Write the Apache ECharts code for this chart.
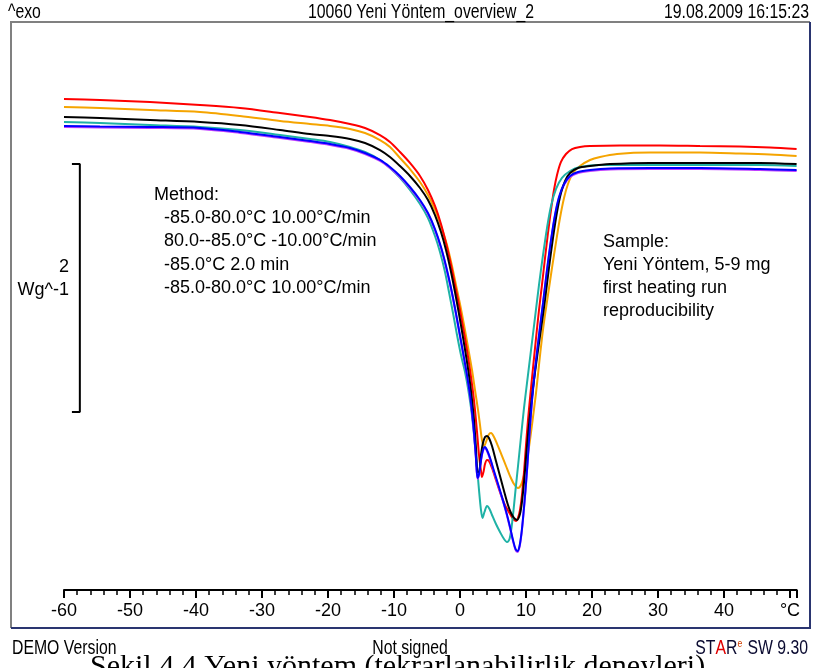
<!DOCTYPE html>
<html>
<head>
<meta charset="utf-8">
<script src="https://cdn.jsdelivr.net/npm/echarts@6/dist/echarts.min.js"></script>
<style>html,body{margin:0;padding:0;background:#fff;}#chart{width:813px;height:668px;}</style>
</head>
<body>
<div id="chart"></div>
<script>
// Temperature ticks (°C)
const xTicks = [-60, -50, -40, -30, -20, -10, 0, 10, 20, 30, 40, 50];
// Heat flow curves [T (°C), heat flow (W/g, arbitrary offset)]
const redCurve = [[-60,3.960],[-54.55,3.952],[-46.97,3.935],[-39.39,3.911],[-33.33,3.887],[-27.27,3.847],[-22.73,3.815],[-19.70,3.790],[-16.67,3.758],[-14.39,3.726],[-12.12,3.669],[-10.61,3.613],[-9.09,3.532],[-7.58,3.444],[-6.06,3.339],[-4.85,3.226],[-3.79,3.097],[-2.88,2.952],[-2.12,2.798],[-1.36,2.621],[-0.76,2.460],[-0.15,2.298],[0.45,2.121],[1.06,1.935],[1.52,1.774],[1.97,1.597],[2.27,1.452],[2.58,1.274],[2.88,1.089],[3.18,0.960],[3.33,0.911],[3.56,0.952],[3.79,1.016],[4.09,1.048],[4.39,1.040],[4.85,0.984],[5.45,0.887],[6.06,0.790],[6.82,0.685],[7.58,0.613],[8.03,0.573],[8.48,0.556],[8.79,0.581],[9.09,0.645],[9.39,0.766],[9.70,0.952],[10.0,1.169],[10.30,1.371],[10.61,1.548],[11.06,1.790],[11.52,2.032],[11.97,2.258],[12.42,2.460],[12.88,2.677],[13.33,2.879],[13.79,3.065],[14.24,3.226],[14.70,3.347],[15.30,3.452],[16.06,3.516],[16.97,3.556],[18.18,3.573],[19.70,3.581],[24.24,3.585],[30.30,3.585],[36.36,3.581],[42.42,3.577],[46.97,3.569],[51,3.556]];
const orangeCurve = [[-60,3.895],[-54.55,3.887],[-46.97,3.871],[-39.39,3.855],[-33.33,3.823],[-27.27,3.782],[-22.73,3.758],[-19.70,3.742],[-16.67,3.718],[-14.39,3.685],[-12.12,3.629],[-10.61,3.573],[-9.09,3.484],[-7.58,3.395],[-6.06,3.290],[-4.85,3.185],[-3.79,3.065],[-2.88,2.935],[-1.97,2.782],[-1.21,2.613],[-0.61,2.460],[0,2.306],[0.61,2.137],[1.21,1.960],[1.82,1.774],[2.27,1.613],[2.73,1.452],[3.03,1.331],[3.33,1.210],[3.64,1.161],[3.94,1.194],[4.32,1.250],[4.70,1.266],[5.15,1.234],[5.76,1.161],[6.36,1.081],[6.97,1.000],[7.58,0.919],[8.18,0.855],[8.79,0.823],[9.24,0.847],[9.70,0.927],[10.15,1.048],[10.61,1.210],[11.06,1.395],[11.52,1.589],[11.97,1.815],[12.42,2.032],[12.88,2.218],[13.33,2.379],[13.94,2.597],[14.55,2.806],[15.15,3.000],[15.76,3.161],[16.36,3.274],[17.12,3.363],[18.18,3.419],[19.70,3.468],[21.21,3.492],[23.79,3.516],[28.79,3.528],[36.36,3.528],[42.42,3.520],[46.97,3.512],[51,3.500]];
const blackCurve = [[-60,3.815],[-54.55,3.806],[-46.97,3.790],[-39.39,3.774],[-33.33,3.750],[-27.27,3.710],[-22.73,3.677],[-19.70,3.661],[-16.67,3.637],[-14.39,3.605],[-12.12,3.548],[-10.61,3.492],[-9.09,3.419],[-7.58,3.339],[-6.06,3.242],[-4.85,3.145],[-3.79,3.024],[-2.88,2.887],[-2.12,2.742],[-1.36,2.565],[-0.76,2.403],[-0.15,2.226],[0.45,2.040],[1.06,1.839],[1.52,1.669],[1.82,1.532],[2.12,1.371],[2.42,1.145],[2.65,0.952],[2.88,0.952],[3.18,1.089],[3.48,1.185],[3.79,1.234],[4.09,1.242],[4.39,1.226],[4.85,1.161],[5.45,1.040],[6.06,0.919],[6.67,0.798],[7.27,0.685],[7.73,0.621],[8.18,0.581],[8.64,0.565],[9.09,0.613],[9.39,0.710],[9.70,0.871],[10.0,1.065],[10.30,1.250],[10.76,1.492],[11.21,1.694],[11.82,1.935],[12.42,2.161],[12.88,2.339],[13.48,2.597],[14.09,2.839],[14.70,3.048],[15.30,3.202],[15.91,3.298],[16.67,3.363],[17.88,3.403],[19.70,3.419],[22.73,3.435],[28.79,3.444],[36.36,3.444],[45.45,3.444],[51,3.435]];
const tealCurve = [[-60,3.774],[-54.55,3.766],[-46.97,3.750],[-39.39,3.734],[-33.33,3.710],[-27.27,3.669],[-22.73,3.637],[-19.70,3.613],[-16.67,3.573],[-14.39,3.532],[-12.12,3.468],[-10.61,3.403],[-9.09,3.323],[-7.58,3.226],[-6.06,3.113],[-4.85,3.000],[-3.79,2.855],[-3.03,2.726],[-2.27,2.565],[-1.67,2.403],[-1.06,2.234],[-0.45,2.056],[0.15,1.895],[0.76,1.758],[1.21,1.629],[1.67,1.468],[1.97,1.331],[2.27,1.169],[2.58,0.992],[2.88,0.806],[3.18,0.645],[3.41,0.581],[3.71,0.629],[4.09,0.677],[4.47,0.653],[4.85,0.605],[5.45,0.532],[6.06,0.468],[6.67,0.411],[7.12,0.387],[7.50,0.411],[7.80,0.500],[8.11,0.645],[8.41,0.806],[8.79,1.000],[9.24,1.234],[9.70,1.468],[10.15,1.669],[10.76,1.935],[11.36,2.194],[11.97,2.460],[12.58,2.702],[13.18,2.919],[13.79,3.097],[14.55,3.234],[15.45,3.323],[16.67,3.379],[18.18,3.411],[21.21,3.427],[28.79,3.427],[36.36,3.427],[45.45,3.427],[51,3.419]];
const magentaCurve = [[-60,3.734],[-54.55,3.730],[-46.97,3.726],[-39.39,3.718],[-33.33,3.686],[-27.27,3.645],[-22.73,3.613],[-19.70,3.589],[-16.67,3.557],[-14.39,3.516],[-12.12,3.460],[-10.61,3.403],[-9.09,3.331],[-7.58,3.242],[-6.06,3.137],[-4.85,3.032],[-3.79,2.903],[-2.88,2.758],[-2.12,2.605],[-1.36,2.427],[-0.76,2.266],[-0.15,2.089],[0.45,1.911],[1.06,1.726],[1.52,1.565],[1.82,1.427],[2.12,1.266],[2.42,1.057],[2.65,0.895],[2.88,0.927],[3.18,1.040],[3.48,1.121],[3.79,1.145],[4.09,1.121],[4.55,1.057],[5.15,0.952],[5.76,0.847],[6.36,0.742],[6.97,0.629],[7.58,0.500],[8.03,0.395],[8.41,0.323],[8.71,0.307],[9.02,0.347],[9.32,0.452],[9.62,0.613],[9.92,0.798],[10.23,1.016],[10.53,1.258],[10.91,1.524],[11.36,1.766],[11.97,2.048],[12.58,2.307],[13.18,2.573],[13.79,2.815],[14.39,3.016],[15.0,3.161],[15.76,3.266],[16.67,3.331],[17.88,3.363],[19.70,3.379],[22.73,3.391],[28.79,3.395],[36.36,3.395],[45.45,3.387],[51,3.379]];
const blueCurve = [[-60,3.742],[-54.55,3.738],[-46.97,3.734],[-39.39,3.726],[-33.33,3.694],[-27.27,3.653],[-22.73,3.621],[-19.70,3.597],[-16.67,3.565],[-14.39,3.524],[-12.12,3.468],[-10.61,3.411],[-9.09,3.339],[-7.58,3.250],[-6.06,3.145],[-4.85,3.040],[-3.79,2.911],[-2.88,2.766],[-2.12,2.613],[-1.36,2.435],[-0.76,2.274],[-0.15,2.097],[0.45,1.919],[1.06,1.734],[1.52,1.573],[1.82,1.435],[2.12,1.274],[2.42,1.065],[2.65,0.903],[2.88,0.935],[3.18,1.048],[3.48,1.129],[3.79,1.153],[4.09,1.129],[4.55,1.065],[5.15,0.960],[5.76,0.855],[6.36,0.750],[6.97,0.637],[7.58,0.508],[8.03,0.403],[8.41,0.331],[8.71,0.315],[9.02,0.355],[9.32,0.460],[9.62,0.621],[9.92,0.806],[10.23,1.024],[10.53,1.266],[10.91,1.532],[11.36,1.774],[11.97,2.056],[12.58,2.315],[13.18,2.581],[13.79,2.823],[14.39,3.024],[15.0,3.169],[15.76,3.274],[16.67,3.339],[17.88,3.371],[19.70,3.387],[22.73,3.399],[28.79,3.403],[36.36,3.403],[45.45,3.395],[51,3.387]];
// Scale bar: 2 W/g
const scaleBarTop = 3.435;
const scaleBarSpan = 2;
const scaleBarLabel = ['2', 'Wg^-1'];
const methodLines = ['Method:', '-85.0-80.0°C 10.00°C/min', '80.0--85.0°C -10.00°C/min', '-85.0°C 2.0 min', '-85.0-80.0°C 10.00°C/min'];
const sampleLines = ['Sample:', 'Yeni Yöntem, 5-9 mg', 'first heating run', 'reproducibility'];

const chart = echarts.init(document.getElementById('chart'), null, {renderer: 'canvas'});
const FONT = '"Liberation Sans", Arial, sans-serif';

function lineSeries(name, data, color, z) {
  return {
    name, type: 'line', data, showSymbol: false, smooth: 0.3,
    lineStyle: {color, width: 2}, z, silent: true, animation: false, clip: true
  };
}

const scaleX1 = -58.8, scaleX2 = -57.6;
const scaleBar = {
  type: 'line', showSymbol: false, silent: true, animation: false, z: 3,
  lineStyle: {color: '#000', width: 2},
  data: [[scaleX1, scaleBarTop], [scaleX2, scaleBarTop], [scaleX2, scaleBarTop - scaleBarSpan], [scaleX1, scaleBarTop - scaleBarSpan]]
};

const textEls = [];
function txt(x, y, s, opt, extra) {
  textEls.push(Object.assign({type: 'text', x, y, z: 10,
    style: Object.assign({text: s, fill: '#000', font: '18px ' + FONT, textVerticalAlign: 'middle'}, opt || {})}, extra || {}));
}
methodLines.forEach((s, i) => txt(i === 0 ? 154 : 164, 195 + i * 23.2, s));
sampleLines.forEach((s, i) => txt(603, 242 + i * 23, s));
txt(69, 267, scaleBarLabel[0], {textAlign: 'right'});
txt(69, 290, scaleBarLabel[1], {textAlign: 'right'});

// header/footer (narrow face)
const NF = '20px ' + FONT;
const narrow = {scaleX: 0.79};
txt(8, 12, '^exo', {font: NF}, narrow);
txt(421, 12, '10060 Yeni Yöntem_overview_2', {font: NF, textAlign: 'center'}, narrow);
txt(809, 12, '19.08.2009 16:15:23', {font: NF, textAlign: 'right'}, narrow);
txt(12, 648, 'DEMO Version', {font: NF}, narrow);
txt(410, 648, 'Not signed', {font: NF, textAlign: 'center'}, narrow);
textEls.push({type: 'text', x: 808, y: 648, z: 10, scaleX: 0.79, style: {
  text: '{a|ST}{b|A}{a|R}{e|e}{a| SW 9.30}', textAlign: 'right', textVerticalAlign: 'middle',
  rich: {
    a: {font: NF, fill: '#0a0a30'},
    b: {font: NF, fill: '#e00000'},
    e: {font: '11px ' + FONT, fill: '#d04000', verticalAlign: 'top', padding: [0, 1, 9, 0]}
  }
}});
textEls.push({type: 'text', x: 90, y: 652, z: 10, style: {text: 'Şekil 4.4 Yeni yöntem (tekrarlanabilirlik deneyleri)', font: '30px "Liberation Serif", serif', fill: '#000', textVerticalAlign: 'top'}});

const frame = [
  {type: 'polyline', z: 5, shape: {points: [[11, 628], [11, 22], [810, 22]]}, style: {stroke: '#808080', lineWidth: 2, fill: null}},
  {type: 'polyline', z: 5, shape: {points: [[810, 22], [810, 628], [11, 628]]}, style: {stroke: '#2a3570', lineWidth: 2, fill: null}}
];

chart.setOption({
  animation: false,
  backgroundColor: '#fff',
  grid: {left: 64, right: 16.4, top: 22.08, bottom: 78, containLabel: false},
  xAxis: {
    type: 'value', min: -60, max: 51, interval: 10,
    axisLine: {show: true, onZero: false, lineStyle: {color: '#000', width: 2}},
    axisTick: {show: true, length: 8, lineStyle: {color: '#000', width: 2}},
    minorTick: {show: true, splitNumber: 5, length: 5, lineStyle: {color: '#000', width: 1.5}},
    splitLine: {show: false},
    axisLabel: {color: '#000', fontSize: 18, fontFamily: FONT, margin: 12, showMaxLabel: false,
      formatter: v => (v === 50 ? '°C' : String(v))}
  },
  yAxis: {type: 'value', min: 0, max: 4.58, show: false},
  series: [
    scaleBar,
    lineSeries('orange', orangeCurve, '#f5a400', 4),
    lineSeries('red', redCurve, '#ff0000', 5),
    lineSeries('teal', tealCurve, '#1fb2a6', 6),
    lineSeries('magenta', magentaCurve, '#c040ff', 7),
    lineSeries('black', blackCurve, '#000000', 8),
    lineSeries('blue', blueCurve, '#0000ff', 9)
  ],
  graphic: {elements: frame.concat(textEls)}
});
</script>
</body>
</html>
